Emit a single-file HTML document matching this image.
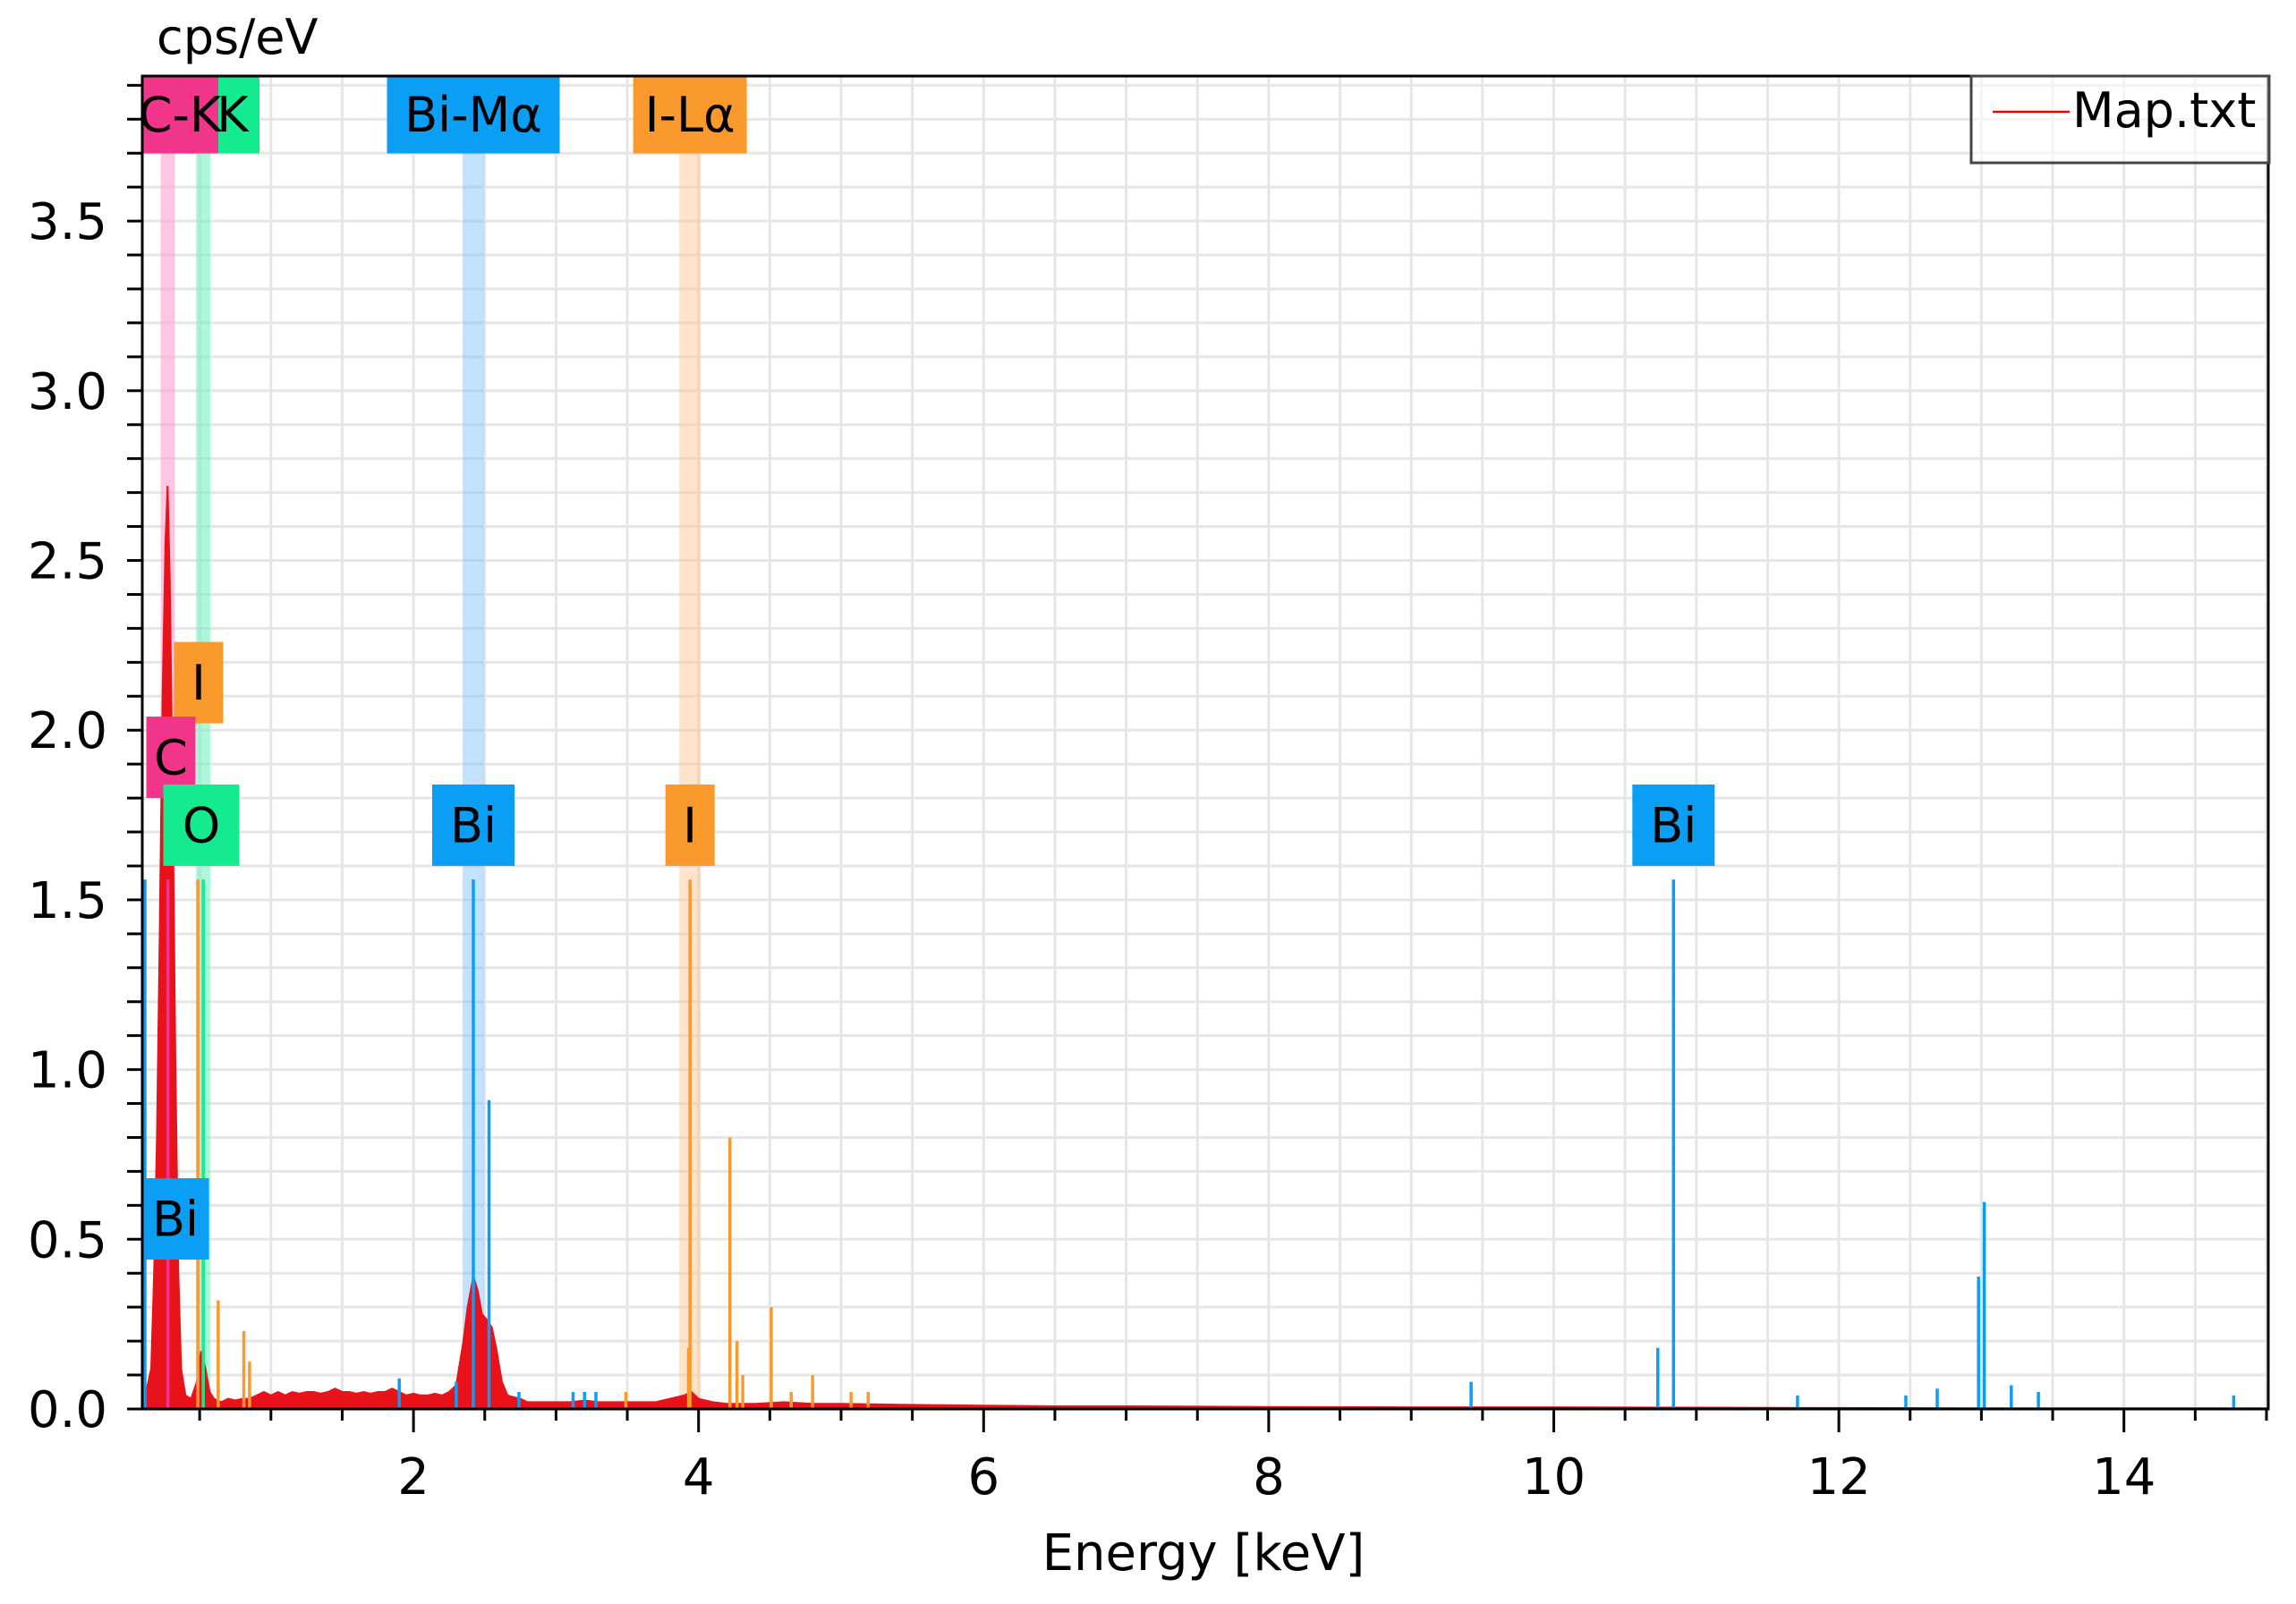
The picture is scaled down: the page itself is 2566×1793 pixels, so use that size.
<!DOCTYPE html>
<html><head><meta charset="utf-8">
<style>
html,body{margin:0;padding:0;background:#fff;}
svg{display:block;font-family:"DejaVu Sans","Liberation Sans",sans-serif;}
</style></head>
<body>
<svg id="chart" xmlns="http://www.w3.org/2000/svg" width="2566" height="1793" viewBox="0 0 2566 1793">
<g id="grid"></g>
<g id="bands"></g>
<g id="spec"></g>
<g id="markers"></g>
<g id="labels"></g>
<g id="axes"></g>
<text x="175" y="60" font-size="54" fill="#000">cps/eV</text>
<text x="1345" y="1755" font-size="56" fill="#000" text-anchor="middle">Energy [keV]</text>
<g>
<rect x="2203" y="85" width="333" height="97" fill="#fff" fill-opacity="0.55" stroke="#444" stroke-width="3"/>
<line x1="2227" y1="125" x2="2313" y2="125" stroke="#e00" stroke-width="2.5"/>
<text x="2316" y="142" font-size="54" fill="#000">Map.txt</text>
</g>
</svg>
<script>
// axis values
const xTicks = [2,4,6,8,10,12,14];
const yTicks = [0.0,0.5,1.0,1.5,2.0,2.5,3.0,3.5];
const yTickLabels = ["0.0","0.5","1.0","1.5","2.0","2.5","3.0","3.5"];
// spectrum data
const specE = [0.10,0.13,0.16,0.18,0.20,0.22,0.24,0.26,0.275,0.29,0.31,0.33,0.35,0.37,0.40,0.44,0.48,0.51,0.54,0.57,0.60,0.65,0.70,0.75,0.80,0.85,0.90,0.95,1.00,1.05,1.10,1.15,1.20,1.25,1.30,1.35,1.40,1.45,1.50,1.55,1.60,1.65,1.70,1.75,1.80,1.85,1.90,1.95,2.00,2.05,2.10,2.15,2.20,2.25,2.30,2.35,2.38,2.42,2.45,2.48,2.52,2.55,2.58,2.62,2.66,2.70,2.75,2.80,2.90,3.00,3.10,3.20,3.30,3.40,3.50,3.60,3.70,3.80,3.90,3.95,4.00,4.10,4.20,4.40,4.60,4.80,5.00,5.50,6.00,6.50,7.00,8.00,9.00,10.0,11.0,12.0,13.0,14.0,15.0];
const specV = [0.03,0.06,0.12,0.40,0.80,1.40,2.10,2.55,2.72,2.45,1.80,1.00,0.40,0.12,0.04,0.03,0.08,0.17,0.12,0.05,0.03,0.02,0.03,0.025,0.03,0.03,0.04,0.05,0.04,0.05,0.04,0.05,0.045,0.05,0.05,0.045,0.05,0.06,0.05,0.05,0.045,0.05,0.045,0.05,0.05,0.06,0.05,0.04,0.045,0.04,0.04,0.045,0.04,0.05,0.07,0.20,0.30,0.39,0.35,0.28,0.26,0.24,0.18,0.08,0.04,0.035,0.03,0.02,0.02,0.02,0.02,0.025,0.02,0.02,0.02,0.02,0.02,0.03,0.04,0.05,0.03,0.02,0.015,0.015,0.02,0.015,0.015,0.012,0.01,0.008,0.008,0.006,0.005,0.005,0.004,0.003,0.002,0.002,0.002];
// marker lines
const markE = [0.116,0.277,0.487,0.525,0.63,0.81,0.85,1.90,2.30,2.42,2.53,2.74,3.12,3.20,3.28,3.49,3.93,3.94,4.22,4.27,4.31,4.51,4.65,4.80,5.07,5.19,9.42,10.73,10.84,11.71,12.47,12.69,12.98,13.02,13.21,13.40,14.77];
const markV = [1.56,1.56,1.56,1.56,0.32,0.23,0.14,0.09,0.08,1.56,0.91,0.05,0.05,0.05,0.05,0.05,0.18,1.56,0.80,0.20,0.10,0.30,0.05,0.10,0.05,0.05,0.08,0.18,1.56,0.04,0.04,0.06,0.39,0.61,0.07,0.05,0.04];
const markC = ["b","p","o","g","o","o","o","b","b","b","b","b","b","b","b","o","o","o","o","o","o","o","o","o","o","o","b","b","b","b","b","b","b","b","b","b","b"];
// element bands and labels
const bandE = [0.277,0.525,2.42,3.94];
const bandC = ["p","g","b","o"];
const boxText = ["O-K","C-K","Bi-Mα","I-Lα","I","C","O","Bi","I","Bi","Bi"];
const boxE = [0.525,0.277,2.42,3.94,0.5,0.277,0.525,2.42,3.94,10.84,0.116];
const boxV = [3.80,3.80,3.80,3.80,2.14,1.92,1.72,1.72,1.72,1.72,0.56];
const boxC = ["g","p","b","o","o","p","g","b","o","b","b"];

const NS="http://www.w3.org/2000/svg";
const L=159,R=2535,T=85,B=1575;
const X=e=>143.5+e*159.3;
const Y=v=>B-v*379.4;
const col={p:"#f0358a",g:"#14ea8e",b:"#0a9ef5",o:"#fb9a2c"};
const bandCol={p:"rgba(255,160,205,0.6)",g:"rgba(110,240,190,0.55)",b:"rgba(120,190,255,0.45)",o:"rgba(255,195,140,0.45)"};
function mk(tag,attrs,parent){const el=document.createElementNS(NS,tag);for(const k in attrs)el.setAttribute(k,attrs[k]);parent.appendChild(el);return el;}
const grid=document.getElementById('grid');
for(let e=0.5;e<15.01;e+=0.5){const el=mk('line',{x1:X(e),x2:X(e),y1:T,y2:B,stroke:"#e6e6e6","stroke-width":3},grid);

}
for(let i=1;i<=39;i++){const v=i*0.1;if(Y(v)<T)break;const el=mk('line',{x1:L,x2:R,y1:Y(v),y2:Y(v),stroke:"#e6e6e6","stroke-width":3},grid);

}
const bands=document.getElementById('bands');
bandE.forEach((e,i)=>{const w=(i>=2)?24:16;const el=mk('rect',{x:X(e)-w/2,y:T,width:w,height:B-T,fill:bandCol[bandC[i]]},bands);

});
const spec=document.getElementById('spec');
let d="M"+X(specE[0])+","+B;
specE.forEach((e,i)=>{d+=" L"+X(e).toFixed(1)+","+Y(specV[i]).toFixed(1);});
d+=" L"+X(specE[specE.length-1])+","+B+" Z";
const area=mk('path',{d:d,fill:"#e8121a",stroke:"#e8121a","stroke-width":2},spec);


const markers=document.getElementById('markers');
markE.forEach((e,i)=>{const el=mk('line',{x1:X(e),x2:X(e),y1:B,y2:Y(markV[i]),stroke:col[markC[i]],"stroke-width":3.5},markers);

});
const labels=document.getElementById('labels');
boxText.forEach((t,i)=>{
 const big=boxV[i]>3.5;
 const h=big?87:91;
 let w=t.length<=1?55:(t.length==2?(i==10?75:92):(t.length==3?(i==0?90:86):(t==="Bi-Mα"?193:127)));
 if(i===6) w=85;
 let cx=X(boxE[i]);
 if(i===1){cx=201;} if(i===0){cx=245;} if(i===5){cx=191;} if(i===10){cx=196;} if(i===4){cx=222;} if(i===6){cx=225;}
 const cy=big?128:Y(boxV[i]);
 const g=mk('g',{},labels);
 
 
 mk('rect',{x:cx-w/2,y:cy-h/2,width:w,height:h,fill:col[boxC[i]]},g);
 const tx=mk('text',{x:(i===0?cx+15:cx),y:cy+19,"font-size":54,"text-anchor":"middle",fill:"#000"},g);
 tx.textContent=(i===0?"K":t);
});
const axes=document.getElementById('axes');
mk('rect',{x:L,y:T,width:R-L,height:B-T,fill:"none",stroke:"#000","stroke-width":3},axes);
for(let i=0;i<=39;i++){const v=i*0.1;if(Y(v)<T)break;mk('line',{x1:L-17,x2:L,y1:Y(v),y2:Y(v),stroke:"#000","stroke-width":3},axes);}
for(let e=0.5;e<15.01;e+=0.5){const maj=Math.abs(e/2-Math.round(e/2))<1e-6;mk('line',{x1:X(e),x2:X(e),y1:B,y2:B+(maj?26:13),stroke:"#000","stroke-width":3},axes);}
yTicks.forEach((v,i)=>{const el=mk('text',{x:120,y:Y(v)+20,"font-size":56,"text-anchor":"end",fill:"#000"},axes);el.textContent=yTickLabels[i];

});
xTicks.forEach(v=>{const el=mk('text',{x:X(v),y:1670,"font-size":56,"text-anchor":"middle",fill:"#000"},axes);el.textContent=String(v);

});
</script>
</body></html>
